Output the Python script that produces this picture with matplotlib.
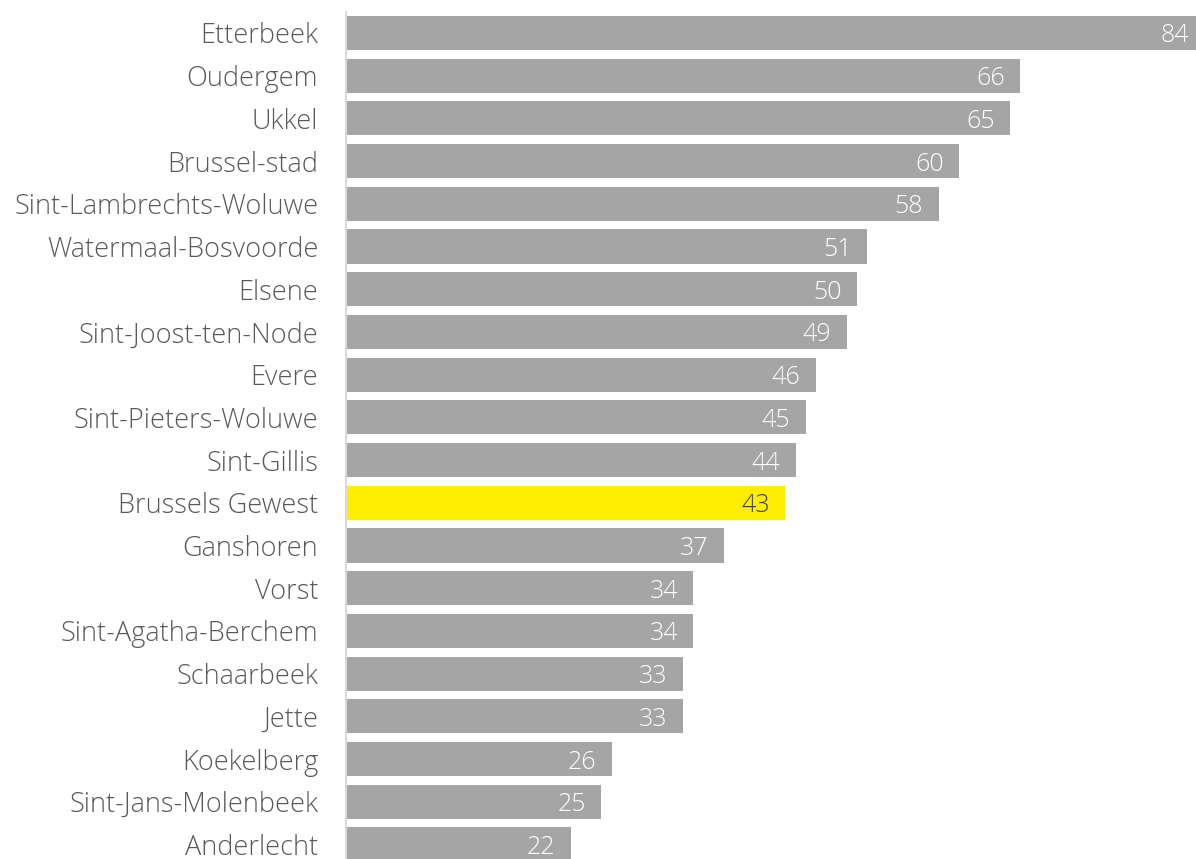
import matplotlib
matplotlib.use("Agg")
import matplotlib.pyplot as plt

gemeenten = ["Etterbeek", "Oudergem", "Ukkel", "Brussel-stad", "Sint-Lambrechts-Woluwe",
             "Watermaal-Bosvoorde", "Elsene", "Sint-Joost-ten-Node", "Evere",
             "Sint-Pieters-Woluwe", "Sint-Gillis", "Brussels Gewest", "Ganshoren",
             "Vorst", "Sint-Agatha-Berchem", "Schaarbeek", "Jette", "Koekelberg",
             "Sint-Jans-Molenbeek", "Anderlecht"]
waarden = [84, 66, 65, 60, 58, 51, 50, 49, 46, 45, 44, 43, 37, 34, 34, 33, 33, 26, 25, 22]
highlight = "Brussels Gewest"

plt.rcParams['font.family'] = ['Open Sans', 'DejaVu Sans']

fig = plt.figure(figsize=(11.96, 8.59), dpi=100)
ax = fig.add_axes([346 / 1196, 0, 1 - 346 / 1196, (859 - 12) / 859])

kleuren = ["#ffed00" if g == highlight else "#a5a5a5" for g in gemeenten]
pos = list(range(len(gemeenten)))
ax.barh(pos, waarden, height=0.8, color=kleuren)

for i, v in enumerate(waarden):
    kleur = "#404040" if gemeenten[i] == highlight else "white"
    ax.text(v - 1.5, i, str(v), ha="right", va="center_baseline", color=kleur,
            fontsize=18, fontweight="light", clip_on=False)

ax.set_xlim(0, 83.2)
ax.set_ylim(19.34, -0.49)
ax.set_yticks(pos)
ax.set_yticklabels(gemeenten, fontsize=19.5, color="#595959", fontweight="light")
ax.tick_params(axis="y", length=0, pad=20)
ax.set_xticks([])
for s in ["top", "right", "bottom"]:
    ax.spines[s].set_visible(False)
ax.spines["left"].set_color("#d9d9d9")
ax.spines["left"].set_linewidth(1.5)

fig.savefig("out.png", dpi=100)
